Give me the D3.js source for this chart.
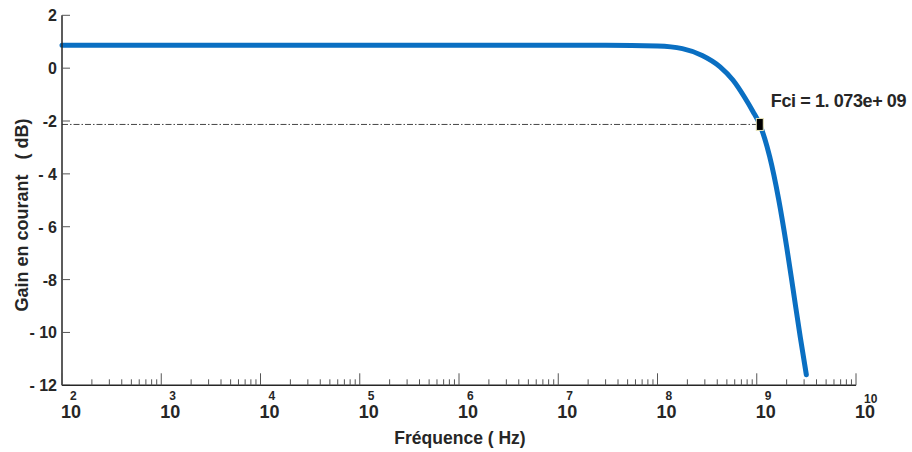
<!DOCTYPE html>
<html>
<head>
<meta charset="utf-8">
<script src="https://cdn.jsdelivr.net/npm/d3@7"></script>
<style>
  body { margin: 0; background: #fff; }
  svg text { font-family: "Liberation Sans", Arial, sans-serif; font-weight: bold; fill: #262626; }
</style>
</head>
<body>
<div id="chart"></div>
<script>
// data (frequency in Hz, gain in dB)
var freqs = [1e2, 1e4, 1e6, 1e7, 3e7, 1e8, 1.78e8, 2.82e8, 4.27e8, 5.75e8, 7.59e8, 9.12e8, 1.073e9, 1.35e9, 1.66e9, 2.0e9, 2.34e9, 2.75e9, 3.16e9];
var gains = [0.87, 0.87, 0.87, 0.87, 0.87, 0.84, 0.74, 0.48, 0.05, -0.45, -1.12, -1.63, -2.13, -3.35, -4.95, -6.75, -8.45, -10.2, -11.6];

var yTicks = [2, 0, -2, -4, -6, -8, -10, -12];
var yTickLabels = ["2", "0", "-2", "- 4", "- 6", "-8", "- 10", "- 12"];
var xExponents = [2, 3, 4, 5, 6, 7, 8, 9, 10];

var fci = 1.073e9, fciGain = -2.13;
var fciLabel = "Fci = 1. 073e+ 09";

var width = 912, height = 452;
var plotLeft = 62, plotRight = 856, plotTop = 15.3, plotBottom = 385.3;

var x = d3.scaleLog().domain([1e2, 1e10]).range([plotLeft, plotRight]);
var y = d3.scaleLinear().domain([-12, 2]).range([plotBottom, plotTop]);

var svg = d3.select('#chart').append('svg')
  .attr('width', width)
  .attr('height', height);

// dash-dot reference line at the cutoff
svg.append('line')
  .attr('x1', plotLeft)
  .attr('x2', x(fci))
  .attr('y1', y(fciGain))
  .attr('y2', y(fciGain))
  .attr('stroke', '#444')
  .attr('stroke-width', 1)
  .attr('stroke-dasharray', '6,2,1.5,2');

// curve
var pts = freqs.map(function(f, i) { return [f, gains[i]]; });
var line = d3.line()
  .x(function(d) { return x(d[0]); })
  .y(function(d) { return y(d[1]); })
  .curve(d3.curveMonotoneX);

svg.append('path')
  .datum(pts)
  .attr('d', line)
  .attr('fill', 'none')
  .attr('stroke', '#0a6fc2')
  .attr('stroke-width', 5)
  .attr('stroke-linecap', 'round');

// marker
svg.append('rect')
  .attr('x', x(fci) - 3.5)
  .attr('y', y(fciGain) - 6)
  .attr('width', 7)
  .attr('height', 12)
  .attr('fill', '#000')
  .attr('stroke', '#e8e4b8')
  .attr('stroke-width', 1);

svg.append('text')
  .attr('x', x(fci) + 11)
  .attr('y', y(fciGain) - 17)
  .attr('font-size', 18)
  .attr('letter-spacing', -0.4)
  .text(fciLabel);

// y axis
svg.append('line')
  .attr('x1', plotLeft).attr('x2', plotLeft)
  .attr('y1', plotTop).attr('y2', plotBottom)
  .attr('stroke', '#262626').attr('stroke-width', 1.5);

yTicks.forEach(function(t, i) {
  svg.append('line')
    .attr('x1', plotLeft).attr('x2', plotLeft + 8)
    .attr('y1', y(t)).attr('y2', y(t))
    .attr('stroke', '#555').attr('stroke-width', 1);
  svg.append('text')
    .attr('x', 57)
    .attr('y', y(t) + 6)
    .attr('text-anchor', 'end')
    .attr('font-size', 16)
    .text(yTickLabels[i]);
});

// x axis
svg.append('line')
  .attr('x1', plotLeft).attr('x2', plotRight)
  .attr('y1', plotBottom).attr('y2', plotBottom)
  .attr('stroke', '#262626').attr('stroke-width', 1.5);

xExponents.forEach(function(e) {
  var v = Math.pow(10, e);
  svg.append('line')
    .attr('x1', x(v)).attr('x2', x(v))
    .attr('y1', plotBottom).attr('y2', plotBottom - 12)
    .attr('stroke', '#555').attr('stroke-width', 1);
  if (e < 10) {
    for (var m = 2; m <= 9; m++) {
      svg.append('line')
        .attr('x1', x(m * v)).attr('x2', x(m * v))
        .attr('y1', plotBottom).attr('y2', plotBottom - 6)
        .attr('stroke', '#555').attr('stroke-width', 1);
    }
  }
  svg.append('text')
    .attr('x', x(v) - 1)
    .attr('y', 418)
    .attr('font-size', 18)
    .text('10');
  svg.append('text')
    .attr('x', x(v) + (e < 10 ? 8 : 8))
    .attr('y', e < 10 ? 400 : 403)
    .attr('font-size', 12)
    .text(e);
});

// axis titles
svg.append('text')
  .attr('x', 460)
  .attr('y', 444)
  .attr('text-anchor', 'middle')
  .attr('font-size', 17.5)
  .text('Fréquence ( Hz)');

svg.append('text')
  .attr('transform', 'translate(28,215) rotate(-90)')
  .attr('text-anchor', 'middle')
  .attr('font-size', 18)
  .style('white-space', 'pre')
  .text('Gain en courant   ( dB)');
</script>
</body>
</html>
